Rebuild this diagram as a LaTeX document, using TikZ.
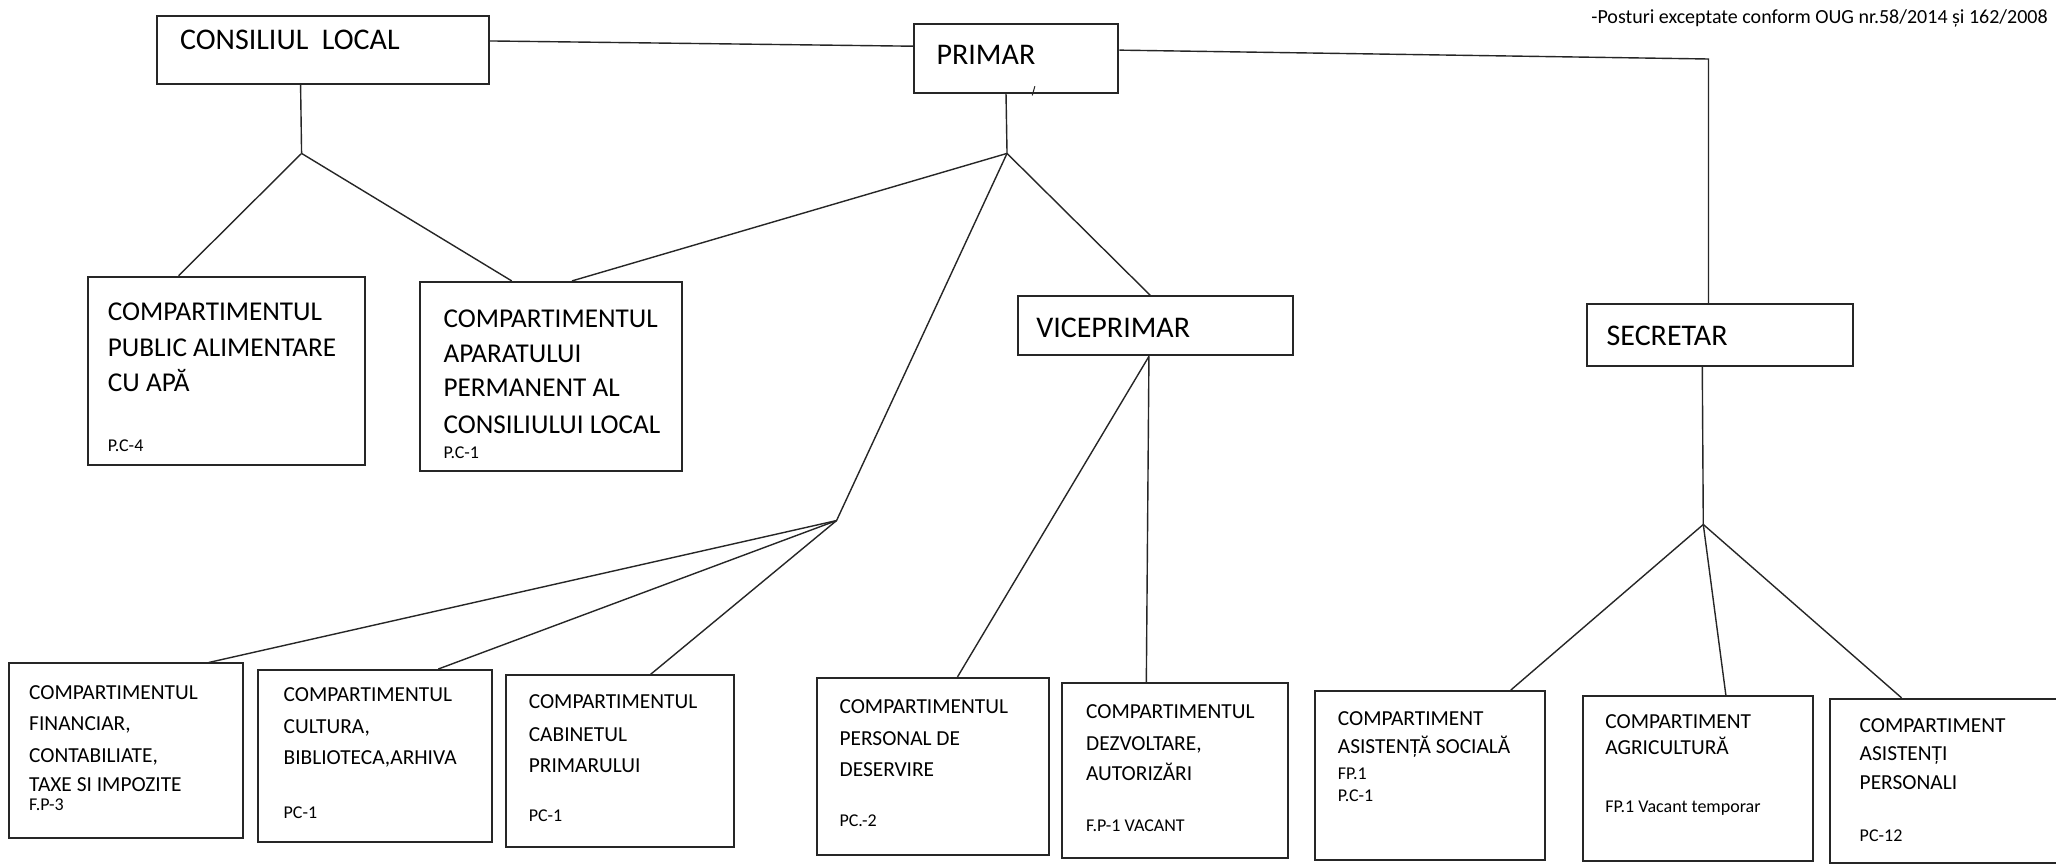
\documentclass[tikz,border=0pt]{standalone}
\usepackage{fontspec}
\setmainfont{Carlito}
\usetikzlibrary{calc,fit}
\tikzset{
  box/.style={draw=black!85, line width=1pt, inner sep=0pt},
  link/.style={draw=black!85, line width=0.7pt},
  ttl/.style={font=\fontsize{15}{18}\selectfont, anchor=base west, inner sep=0pt},
  mid/.style={font=\fontsize{13.6}{16}\selectfont, anchor=base west, inner sep=0pt},
  sml/.style={font=\fontsize{10.7}{13}\selectfont, anchor=base west, inner sep=0pt},
  code/.style={font=\fontsize{9}{11}\selectfont, anchor=base west, inner sep=0pt},
}
\begin{document}
\begin{tikzpicture}[x=0.6556pt,y=-0.6556pt]
\clip (0,0) rectangle (1568,659);
\fill[white] (0,0) rectangle (1568,659);
% header
\node[font=\fontsize{10}{12}\selectfont, anchor=base east, inner sep=0pt] (hdr) at (1562,18) {-Posturi exceptate conform OUG nr.58/2014 și 162/2008};
% boxes
\node[box, fit={(120,12) (373,64)}] (cl) {};
\node[box, fit={(697,18) (853,71)}] (pr) {};
\node[box, fit={(1210,232) (1413,279)}] (sec) {};
\node[box, fit={(776,226) (986,271)}] (vice) {};
\node[box, fit={(67,211) (278,355)}] (pub) {};
\node[box, fit={(320,215) (520,359)}] (apa) {};
\node[box, fit={(7,506) (185,639)}] (fin) {};
\node[box, fit={(197,511) (375,642)}] (cul) {};
\node[box, fit={(386,515) (560,646)}] (cab) {};
\node[box, fit={(623,517) (800,652)}] (per) {};
\node[box, fit={(810,521) (982,654)}] (dez) {};
\node[box, fit={(1003,527) (1178,656)}] (asi) {};
\node[box, fit={(1207,531) (1383,657)}] (agr) {};
\node[box, fit={(1396,533) (1590,658)}] (ast) {};
% titles
\node[ttl] (tcl) at (137,37.4) {CONSILIUL\ \ LOCAL};
\node[ttl] (tpr) at (714,49.4) {PRIMAR};
\node[ttl] (tvi) at (790,257.4) {VICEPRIMAR};
\node[ttl] (tse) at (1225,263.4) {SECRETAR};
% middle boxes
\node[mid] (p1) at (82,244.7) {COMPARTIMENTUL};
\node[mid] (p2) at (82,271.7) {PUBLIC ALIMENTARE};
\node[mid] (p3) at (82,298.7) {CU APĂ};
\node[code] (p4) at (82,344.4) {P.C-4};
\node[mid] (a1) at (338,249.7) {COMPARTIMENTUL};
\node[mid] (a2) at (338,276.7) {APARATULUI};
\node[mid] (a3) at (338,302.7) {PERMANENT AL};
\node[mid] (a4) at (338,330.7) {CONSILIULUI LOCAL};
\node[code] (a5) at (338,349.4) {P.C-1};
% bottom boxes
\node[sml] (f1t) at (22,533.3) {COMPARTIMENTUL};
\node[sml] (f2t) at (22,557.3) {FINANCIAR,};
\node[sml] (f3t) at (22,581.3) {CONTABILIATE,};
\node[sml] (f4t) at (22,603.3) {TAXE SI IMPOZITE};
\node[code] (f5t) at (22,618.4) {F.P-3};
\node[sml] (c1t) at (216,535.3) {COMPARTIMENTUL};
\node[sml] (c2t) at (216,559.3) {CULTURA,};
\node[sml] (c3t) at (216,583.3) {BIBLIOTECA,ARHIVA};
\node[code] (c4t) at (216,624.4) {PC-1};
\node[sml] (b1t) at (403,540.3) {COMPARTIMENTUL};
\node[sml] (b2t) at (403,565.3) {CABINETUL};
\node[sml] (b3t) at (403,589.3) {PRIMARULUI};
\node[code] (b4t) at (403,626.4) {PC-1};
\node[sml] (r1t) at (640,544.3) {COMPARTIMENTUL};
\node[sml] (r2t) at (640,568.3) {PERSONAL DE};
\node[sml] (r3t) at (640,592.3) {DESERVIRE};
\node[code] (r4t) at (640,630.4) {PC.-2};
\node[sml] (d1t) at (828,548.3) {COMPARTIMENTUL};
\node[sml] (d2t) at (828,572.3) {DEZVOLTARE,};
\node[sml] (d3t) at (828,595.3) {AUTORIZĂRI};
\node[code] (d4t) at (828,634.4) {F.P-1 VACANT};
\node[sml] (s1t) at (1020,553.3) {COMPARTIMENT};
\node[sml] (s2t) at (1020,574.3) {ASISTENȚĂ SOCIALĂ};
\node[code] (s3t) at (1020,594.4) {FP.1};
\node[code] (s4t) at (1020,611.4) {P.C-1};
\node[sml] (g1t) at (1224,555.3) {COMPARTIMENT};
\node[sml] (g2t) at (1224,575.3) {AGRICULTURĂ};
\node[code] (g3t) at (1224,619.4) {FP.1 Vacant temporar};
\node[sml] (t1t) at (1418,558.3) {COMPARTIMENT};
\node[sml] (t2t) at (1418,580.3) {ASISTENȚI};
\node[sml] (t3t) at (1418,602.3) {PERSONALI};
\node[code] (t4t) at (1418,641.4) {PC-12};
% junction points
\coordinate (j1) at (230,117);
\coordinate (j2) at (768,117);
\coordinate (j3) at (638,397);
\coordinate (j4) at (1299,400);
\coordinate (k1) at (1303,45);
% connectors
\draw[link] ($(cl.north east)+(0,20)$) -- ($(pr.north west)+(0,18)$);
\draw[link] ($(pr.north east)+(0,21)$) -- (k1) -- (k1 |- sec.north);
\draw[link] ($(cl.south west)+(110,0)$) -- (j1);
\draw[link] (j1) -- ($(pub.north west)+(70,0)$);
\draw[link] (j1) -- ($(apa.north west)+(71,0)$);
\draw[link] ($(pr.south west)+(71,0)$) -- (j2);
\draw[link] (j2) -- ($(apa.north west)+(117,0)$);
\draw[link] (j2) -- ($(vice.north west)+(102,0)$);
\draw[link] (j2) -- (j3);
\draw[link] (j3) -- ($(fin.north west)+(153,0)$);
\draw[link] (j3) -- ($(cul.north west)+(138,0)$);
\draw[link] (j3) -- ($(cab.north west)+(111,0)$);
\draw[link] ($(vice.south west)+(101,0)$) -- ($(per.north west)+(108,0)$);
\draw[link] ($(vice.south west)+(101,0)$) -- ($(dez.north west)+(65,0)$);
\draw[link] ($(sec.south west)+(89,0)$) -- (j4);
\draw[link] (j4) -- ($(asi.north west)+(150,0)$);
\draw[link] (j4) -- ($(agr.north west)+(110,0)$);
\draw[link] (j4) -- ($(ast.north west)+(55,0)$);
% small pen mark below PRIMAR
\draw[link, line width=0.5pt] ($(pr.south west)+(91,1)$) -- ($(pr.south west)+(93,-6)$);
\end{tikzpicture}
\end{document}
